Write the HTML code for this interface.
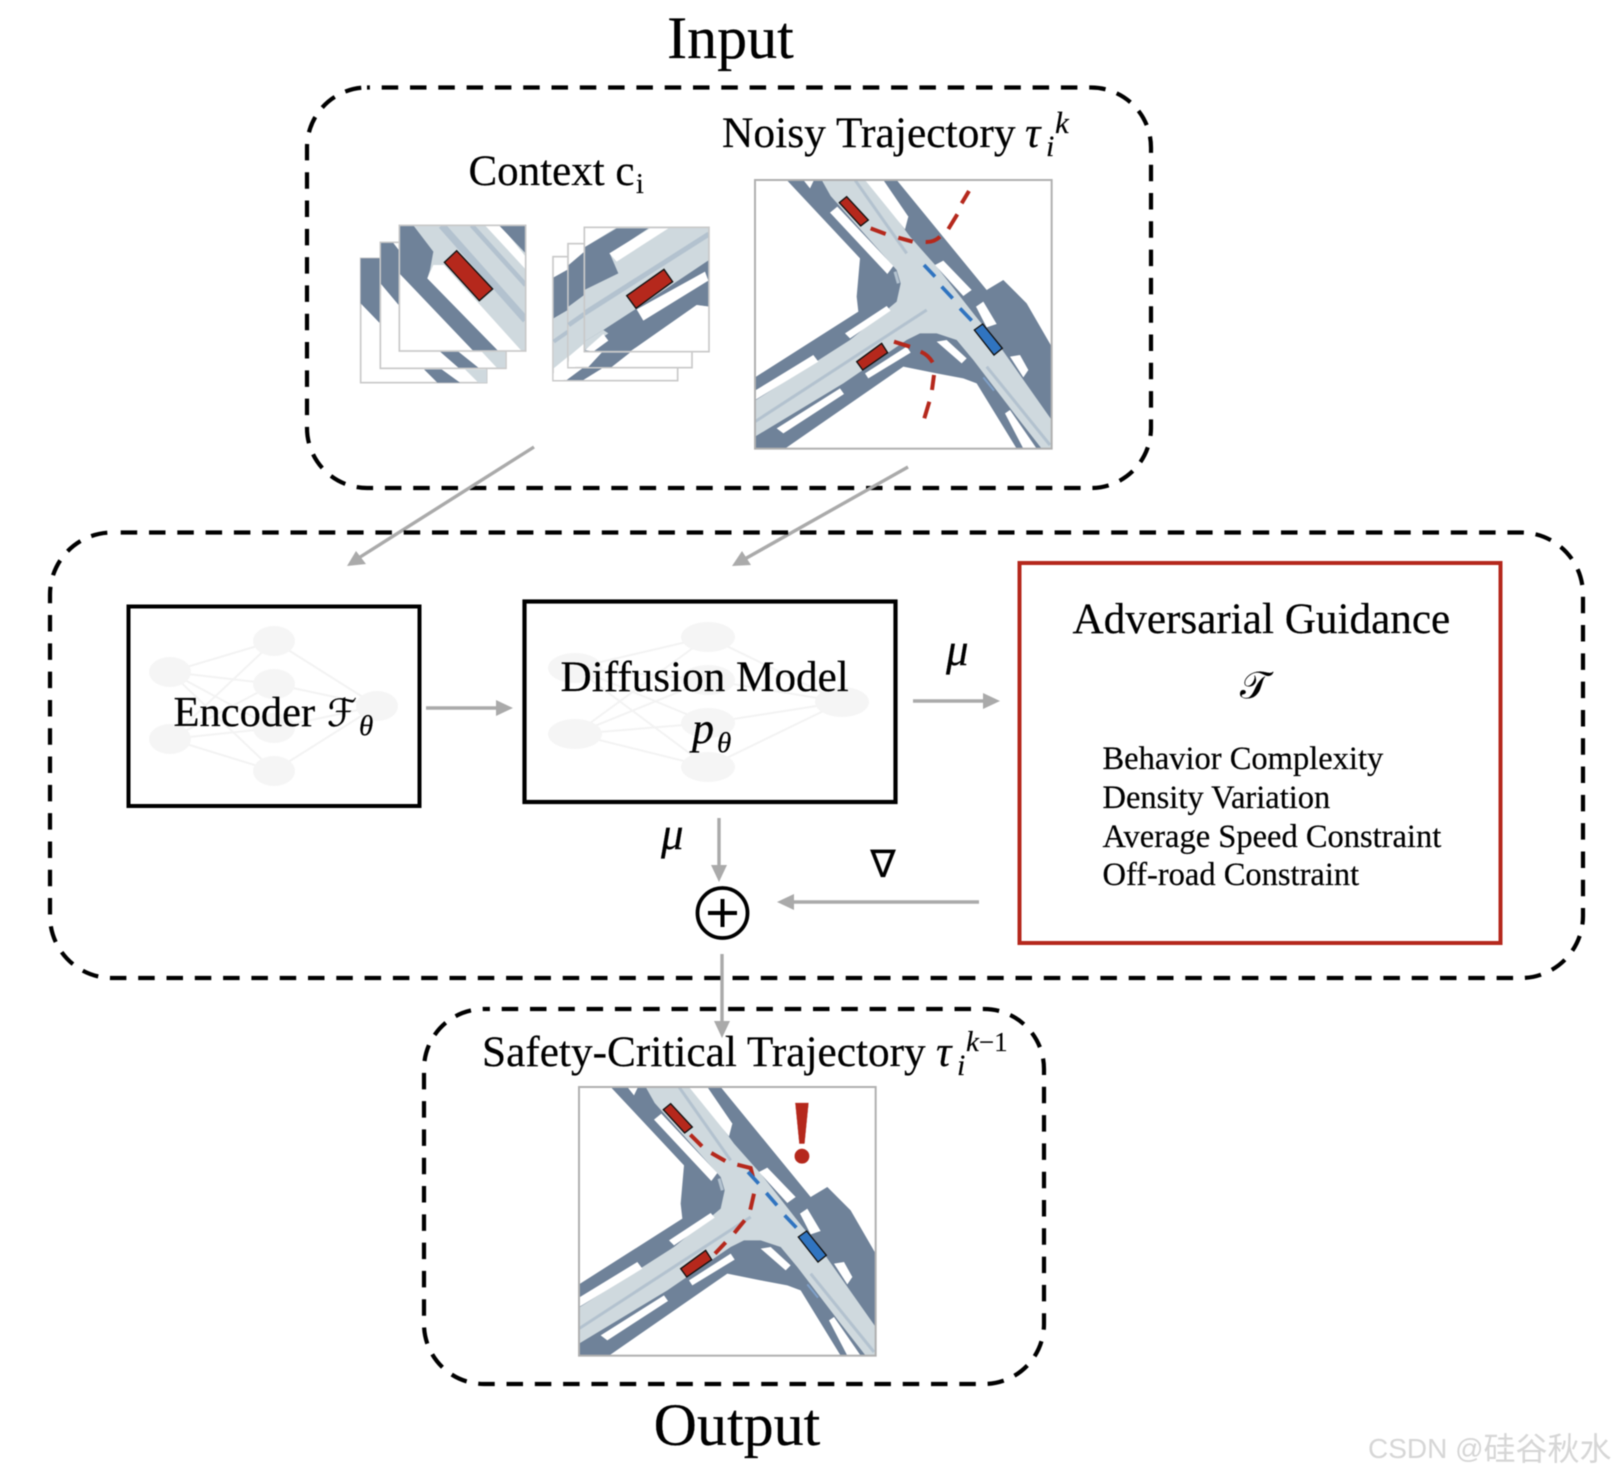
<!DOCTYPE html>
<html><head><meta charset="utf-8"><title>Diagram</title>
<style>
html,body{margin:0;padding:0;background:#fff;width:1616px;height:1476px;overflow:hidden}
svg{display:block;filter:blur(.45px)}
text{font-family:"Liberation Serif","Noto Serif CJK SC",serif;fill:#000;stroke:#000;stroke-width:.2px}
.it{font-style:italic}
.g{stroke:#aaa;stroke-width:3.4;fill:none}
.h{fill:#aaa}
.db{fill:none;stroke:#000;stroke-width:4.2;stroke-dasharray:16.500 11.800}
.nn ellipse{fill:#f5f5f5}
.nn path{stroke:#f3f3f3;stroke-width:2;fill:none}
.r{stroke:#b5281c;stroke-width:12;fill:none}
.b{stroke:#3074c0;stroke-width:11;fill:none}
.car{stroke:#111;stroke-width:4}
</style></head><body>
<svg width="1616" height="1476" viewBox="0 0 1616 1476" xmlns="http://www.w3.org/2000/svg">
<defs>
<clipPath id="mc"><rect x="45" y="30" width="890" height="806"/></clipPath>
<clipPath id="cf1"><rect x="148" y="46" width="379" height="377"/></clipPath>
<clipPath id="cf2"><rect x="703" y="52" width="374" height="373"/></clipPath>
<g id="road" clip-path="url(#mc)">
<rect x="45" y="30" width="890" height="806" fill="#fff"/>
<path fill="#6f8299" d="M140 30L360 265L350 380L355 425L45 622V836H135L490 590L590 610L670 625L710 640L830 836H935V530L860 400L790 330L740 360L470 30Z"/>
<path fill="#cfd9de" d="M245 30L272 78L470 300L482 340L470 395L440 420L330 510L45 692V800L310 640L500 510L540 490L590 490L650 510L700 570L830 740L905 836H935V750L780 530L700 430L590 290L510 200L385 30Z"/>
<g fill="#fff">
<path d="M375 30H430L505 140L495 178Z"/>
<path d="M270 128L292 110L460 288L442 312Z"/>
<path d="M190 30H222L210 55Z"/>
<path d="M585 285L610 272L695 360L670 378Z"/>
<path d="M708 410L730 395L770 462L740 472Z"/>
<path d="M810 560L840 555L865 600L850 622Z"/>
<path d="M315 490L440 408L452 422L330 505Z"/>
<path d="M45 662L220 555L235 575L45 690Z"/>
<path d="M110 775L300 655L312 672L130 790Z"/>
<path d="M375 610L500 530L512 548L385 625Z"/>
<path d="M590 515L620 510L680 565L665 580Z"/>
<path d="M795 730L810 720L890 836H850Z"/>
</g>
<g stroke="#b3c2cf" fill="none" stroke-width="9">
<path d="M345 30L500 250"/>
<path d="M45 755L560 420"/>
<path d="M740 590L930 825"/>
<path d="M465 305L475 340"/>
</g>
<path d="M730 622L762 662" stroke="#7fa0c8" stroke-width="6"/>
<path class="car" fill="#b5281c" d="M298 98L320 80L385 150L362 168Z"/>
<path class="car" fill="#b5281c" d="M350 575L425 520L443 548L368 600Z"/>
<path class="car" fill="#3074c0" d="M703 480L728 462L787 535L762 555Z"/>
</g>
</defs>

<text x="730.500" y="58" font-size="60" text-anchor="middle">Input</text>
<rect class="db" x="307" y="87.500" width="844" height="400.500" rx="60" stroke-dashoffset="-14.700"/>
<text x="468.500" y="185" font-size="43">Context c</text>
<text x="636" y="193" font-size="28">i</text>
<text x="722" y="147" font-size="43.500">Noisy Trajectory</text>
<text class="it" x="1025" y="147" font-size="43">τ</text>
<text class="it" x="1046" y="156" font-size="30">i</text>
<text class="it" x="1055" y="133" font-size="31">k</text>

<!-- context stacks, coordinates from 3x grid -->
<g transform="translate(350,210) scale(.33333)">
<rect x="32" y="145" width="378" height="373" fill="#fff" stroke="#c9c9c9" stroke-width="5"/>
<path fill="#6f8299" d="M32 145H90V340L32 280Z"/>
<path fill="#6f8299" d="M222 478H275L330 518H262Z"/>
<path fill="#cfd9de" d="M345 478H410V518H385Z"/>
<rect x="91" y="97" width="377" height="378" fill="#fff" stroke="#c9c9c9" stroke-width="5"/>
<path fill="#6f8299" d="M93 99H130L150 125V290L93 222Z"/>
<path fill="#6f8299" d="M270 425H325L385 473H325Z"/>
<path fill="#cfd9de" d="M395 425H466V473H440Z"/>
<path fill="#cfd9de" d="M148 46H527V423H148Z" clip-path="url(#cf1)"/>
<g clip-path="url(#cf1)">
<path fill="#fff" d="M148 190V423H380Z"/>
<path fill="#6f8299" d="M148 46H190L250 125L240 180L232 205L445 423H370L148 190Z"/>
<path fill="#fff" d="M250 165L282 165L515 423H445L232 205Z"/>
<path fill="#fff" d="M405 46H452L527 140V178Z"/>
<path fill="#6f8299" d="M447 46H527V130Z"/>
<path d="M275 46L527 330" stroke="#b3c2cf" stroke-width="22" fill="none"/>
<path d="M365 46L527 225" stroke="#b3c2cf" stroke-width="14" fill="none"/>
</g>
<rect x="148" y="46" width="379" height="377" fill="none" stroke="#c9c9c9" stroke-width="5"/>
<path class="car" stroke-width="5" fill="#b5281c" d="M283 157L320 122L428 237L388 272Z"/>

<rect x="609" y="140" width="374" height="372" fill="#fff" stroke="#c9c9c9" stroke-width="5"/>
<path fill="#6f8299" d="M611 202L654 178V300L611 325Z"/>
<path fill="#cfd9de" d="M611 325L654 300V440L611 475Z"/>
<path d="M611 395L654 365" stroke="#b3c2cf" stroke-width="12"/>
<path fill="#fff" d="M611 490L654 455V475L640 510H611Z"/>
<path fill="#6f8299" d="M650 510L700 473H760L700 510Z"/>
<rect x="654" y="101" width="372" height="372" fill="#fff" stroke="#c9c9c9" stroke-width="5"/>
<path fill="#6f8299" d="M656 165L703 125V255L656 290Z"/>
<path fill="#cfd9de" d="M656 290L703 255V400L656 440Z"/>
<path d="M656 345L703 312" stroke="#b3c2cf" stroke-width="14"/>
<path fill="#fff" d="M656 455L703 418V440L675 471H656Z"/>
<path fill="#6f8299" d="M715 471L755 428H840L785 471Z"/>
<g clip-path="url(#cf2)">
<rect x="703" y="52" width="374" height="373" fill="#cfd9de"/>
<path fill="#fff" d="M703 52V112L800 52Z"/>
<path fill="#6f8299" d="M703 112L800 55H895L780 132L805 190L703 240Z"/>
<path fill="#fff" d="M778 130L900 55H955L800 155Z"/>
<path d="M703 310L1077 72" stroke="#b3c2cf" stroke-width="15" fill="none"/>
<path fill="#6f8299" d="M703 425V395L760 360L860 295L1077 150V290L1040 285L840 425Z"/>
<path fill="#cfd9de" d="M703 395L760 360L775 370L703 420Z"/>
<path fill="#fff" d="M860 298L1065 185L1075 212L880 332Z"/>
<path fill="#fff" d="M705 420L760 372L775 392L730 425Z"/>
<path fill="#fff" d="M840 425L1040 285L1077 290V425Z"/>
</g>
<rect x="703" y="52" width="374" height="373" fill="none" stroke="#c9c9c9" stroke-width="5"/>
<path class="car" stroke-width="5" fill="#b5281c" d="M830 257L942 178L968 215L858 295Z"/>
</g>

<!-- noisy map -->
<g transform="translate(755,180) scale(.33333) translate(-45,-30)">
<use href="#road"/>
<path class="r" d="M392 175L437 192M475 203L518 215M557 216Q582 217 600 200M625 177L652 133M665 100L687 63M462 515L510 530M542 545Q565 555 578 577M582 615L576 660M568 695L553 745"/>
<path class="b" d="M552 285L585 320M605 350L638 385M660 415L695 452"/>
<rect x="45" y="30" width="890" height="806" fill="none" stroke="#b0b0b0" stroke-width="6"/>
</g>

<!-- arrows from input -->
<path class="g" d="M534 447L357 559"/><path class="h" d="M347 566L356 551L366 564Z"/>
<path class="g" d="M908 467L743 560"/><path class="h" d="M732 566L742 551L751 565Z"/>

<rect class="db" x="50" y="532.500" width="1533" height="445.500" rx="62" stroke-dashoffset="-8.700"/>

<!-- encoder -->
<g class="nn">
<path d="M170 672L274 641M170 672L274 684M170 672L274 728M170 672L274 771M170 739L274 641M170 739L274 684M170 739L274 728M170 739L274 771M274 641L377 706M274 684L377 706M274 728L377 706M274 771L377 706"/>
<ellipse cx="170" cy="672" rx="21" ry="15"/><ellipse cx="170" cy="739" rx="21" ry="15"/>
<ellipse cx="274" cy="641" rx="21" ry="15"/><ellipse cx="274" cy="684" rx="21" ry="15"/>
<ellipse cx="274" cy="728" rx="21" ry="15"/><ellipse cx="274" cy="771" rx="21" ry="15"/>
<ellipse cx="377" cy="706" rx="21" ry="15"/>
</g>
<rect x="128.500" y="606.500" width="291" height="199.500" fill="none" stroke="#000" stroke-width="4"/>
<text x="173.500" y="726" font-size="42.500">Encoder</text>
<text x="327" y="726" font-size="38">ℱ</text>
<text class="it" x="359" y="735" font-size="29">θ</text>

<!-- diffusion -->
<g class="nn">
<path d="M575 668L708 637M575 668L708 680M575 668L708 723M575 668L708 767M575 734L708 637M575 734L708 680M575 734L708 723M575 734L708 767M708 637L842 702M708 680L842 702M708 723L842 702M708 767L842 702"/>
<ellipse cx="575" cy="668" rx="27" ry="15"/><ellipse cx="575" cy="734" rx="27" ry="15"/>
<ellipse cx="708" cy="637" rx="27" ry="15"/><ellipse cx="708" cy="680" rx="27" ry="15"/>
<ellipse cx="708" cy="723" rx="27" ry="15"/><ellipse cx="708" cy="767" rx="27" ry="15"/>
<ellipse cx="842" cy="702" rx="27" ry="15"/>
</g>
<rect x="524.500" y="601.500" width="371" height="200.500" fill="none" stroke="#000" stroke-width="4.200"/>
<text x="560.500" y="691" font-size="43.200">Diffusion Model</text>
<text class="it" x="692" y="743" font-size="44">p</text>
<text class="it" x="717" y="752" font-size="29">θ</text>

<!-- arrows -->
<path class="g" d="M426 708H500"/><path class="h" d="M513 708L496 700V716Z"/>
<path class="g" d="M913 701H986"/><path class="h" d="M1000 701L983 693V709Z"/>
<path class="g" d="M719 818V868"/><path class="h" d="M719 882L711 865H727Z"/>
<path class="g" d="M979 902H792"/><path class="h" d="M777 902L794 894V910Z"/>
<path class="g" d="M722 954V1025"/><path class="h" d="M722 1038L714 1021H730Z"/>

<text class="it" x="946" y="665" font-size="45">μ</text>
<text class="it" x="661" y="849" font-size="45">μ</text>
<text x="883" y="877" font-size="38" text-anchor="middle" style='font-family:"DejaVu Sans",sans-serif'>∇</text>
<circle cx="722.500" cy="913" r="25" fill="none" stroke="#000" stroke-width="3.800"/>
<path d="M722.500 899V927M708 913H737" stroke="#000" stroke-width="4" fill="none"/>

<!-- adversarial -->
<rect x="1019.500" y="563" width="481" height="380" fill="none" stroke="#b5281c" stroke-width="4"/>
<text x="1072.500" y="633" font-size="43.200">Adversarial Guidance</text>
<text x="1240" y="698" font-size="38">𝒯</text>
<text x="1102.500" y="769" font-size="32.500">Behavior Complexity</text>
<text x="1102.500" y="808" font-size="32.500">Density Variation</text>
<text x="1102.500" y="847" font-size="32.500">Average Speed Constraint</text>
<text x="1102.500" y="885" font-size="32.500">Off-road Constraint</text>

<!-- output -->
<rect class="db" x="424" y="1009" width="620" height="375" rx="60" stroke-dashoffset="-17.700"/>
<text x="482" y="1066" font-size="43.300">Safety-Critical Trajectory</text>
<text class="it" x="936" y="1066" font-size="43">τ</text>
<text class="it" x="957" y="1075" font-size="30">i</text>
<text class="it" x="966" y="1051" font-size="29">k<tspan font-style="normal" font-size="27">−1</tspan></text>

<g transform="translate(579,1087) scale(.33333) translate(-45,-30)">
<use href="#road"/>
<g transform="translate(-13,-20)">
<path class="r" d="M392 193L427 228M455 248L497 272M533 283L573 293L580 320M583 370L572 418M555 450L524 488M498 516L466 550"/>
<path class="b" d="M565 305L597 340M620 368L652 405M675 435L710 472"/>
</g>
<rect x="45" y="30" width="890" height="806" fill="none" stroke="#b0b0b0" stroke-width="6"/>
</g>
<text x="802" y="1162" font-size="90" font-weight="bold" text-anchor="middle" style="fill:#b5281c;stroke:#b5281c">!</text>

<text x="737" y="1445" font-size="60" text-anchor="middle">Output</text>
<text x="1368" y="1458" font-size="28" style='font-family:"Liberation Sans","Noto Sans CJK SC",sans-serif;fill:#d6d6d6;stroke:none'>CSDN @<tspan font-size="32" dy="2">硅谷秋水</tspan></text>
</svg>
</body></html>
